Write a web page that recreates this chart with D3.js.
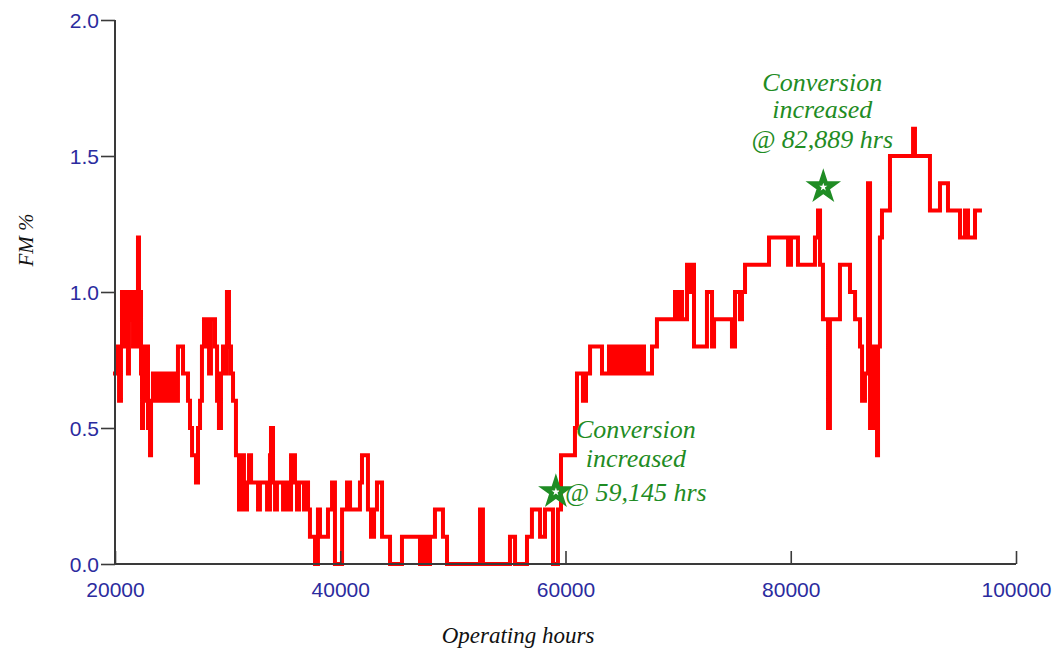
<!DOCTYPE html>
<html>
<head>
<meta charset="utf-8">
<script src="https://cdn.jsdelivr.net/npm/d3@7"></script>
<style>
  html, body { margin: 0; padding: 0; background: #ffffff; }
  svg { display: block; }
</style>
</head>
<body>
<svg id="chart" width="1056" height="654"></svg>
<script>
// FM % recorded against operating hours
const hours = [
  20000, 20090, 20270, 20360, 20440, 20530, 20620, 20800, 20890, 20980,
  21150, 21240, 21420, 21600, 21690, 21860, 21950, 22040, 22130, 22310,
  22400, 22490, 22660, 22840, 22930, 23110, 23200, 23370, 23550, 23730,
  23910, 24080, 24260, 24440, 24620, 24790, 24970, 25240, 25420, 25590,
  25860, 26040, 26300, 26480, 26660, 26840, 27010, 27190, 27370, 27550,
  27720, 27900, 28080, 28170, 28350, 28520, 28700, 28880, 29060, 29230,
  29410, 29590, 29770, 29940, 30120, 30300, 30480, 30650, 30740, 30920,
  31010, 31190, 31280, 31450, 31540, 31720, 31900, 32080, 32520, 32700,
  32870, 33230, 33500, 33760, 33850, 34030, 34210, 34380, 34650, 34920,
  35090, 35360, 35630, 35800, 35980, 36160, 36340, 36600, 36780, 36960,
  37140, 37310, 37580, 37760, 38020, 38200, 38650, 38910, 39270, 39530,
  39980, 40160, 40420, 40600, 40870, 41490, 41750, 41930, 42200, 42460,
  42730, 43000, 43260, 43530, 43710, 44240, 44420, 44860, 45130, 45480,
  46020, 46640, 47080, 47350, 47700, 47970, 48410, 48860, 49120, 49480,
  52230, 52410, 52670, 54810, 55070, 55520, 56230, 56580, 57020, 57470,
  57740, 58180, 58620, 58890, 59160, 59330, 59600, 60670, 60840, 61020,
  61290, 61550, 61820, 62180, 63060, 63240, 63690, 63860, 64130, 64400,
  64660, 64930, 65200, 65460, 65730, 66080, 66350, 66700, 66970, 67330,
  67680, 68120, 69550, 69720, 69990, 70170, 70350, 70790, 71050, 71230,
  71410, 72390, 72560, 72830, 73010, 73190, 74610, 74780, 75050, 75320,
  75490, 75670, 75940, 77890, 78070, 79490, 79760, 80020, 80380, 80640,
  81890, 82150, 82420, 82600, 82860, 83130, 83310, 83480, 84110, 84370,
  84990, 85260, 85530, 85710, 85970, 86150, 86330, 86590, 86770, 86860,
  87040, 87390, 87660, 87750, 87920, 88100, 88550, 88810, 90770, 90860,
  91030, 92190, 92360, 93070, 93250, 93700, 93960, 94850, 95030, 95470,
  95740, 96180, 96360, 96800
];
const fm = [
  0.7, 0.8, 0.8, 0.6, 0.6, 0.8, 1.0, 1.0, 0.8, 1.0,
  0.7, 0.9, 1.0, 0.8, 1.0, 1.0, 0.8, 1.2, 1.0, 0.7,
  0.5, 0.6, 0.8, 0.8, 0.5, 0.4, 0.6, 0.7, 0.6, 0.7,
  0.6, 0.7, 0.6, 0.7, 0.6, 0.7, 0.6, 0.7, 0.6, 0.8,
  0.8, 0.7, 0.7, 0.6, 0.5, 0.4, 0.4, 0.3, 0.5, 0.6,
  0.8, 0.9, 0.8, 0.9, 0.7, 0.9, 0.9, 0.8, 0.6, 0.5,
  0.7, 0.8, 0.7, 1.0, 0.8, 0.7, 0.6, 0.6, 0.4, 0.4,
  0.2, 0.3, 0.4, 0.3, 0.2, 0.3, 0.4, 0.3, 0.3, 0.2,
  0.3, 0.3, 0.2, 0.4, 0.5, 0.3, 0.2, 0.3, 0.3, 0.2,
  0.3, 0.2, 0.4, 0.4, 0.3, 0.2, 0.3, 0.3, 0.2, 0.3,
  0.2, 0.1, 0.1, 0.0, 0.2, 0.1, 0.1, 0.2, 0.3, 0.0,
  0.0, 0.2, 0.2, 0.3, 0.2, 0.2, 0.3, 0.4, 0.4, 0.2,
  0.1, 0.2, 0.3, 0.3, 0.1, 0.1, 0.0, 0.0, 0.0, 0.1,
  0.1, 0.1, 0.0, 0.1, 0.0, 0.1, 0.2, 0.2, 0.1, 0.0,
  0.0, 0.2, 0.0, 0.0, 0.1, 0.0, 0.0, 0.1, 0.2, 0.2,
  0.1, 0.2, 0.2, 0.0, 0.0, 0.2, 0.4, 0.4, 0.5, 0.7,
  0.7, 0.6, 0.7, 0.8, 0.8, 0.7, 0.7, 0.8, 0.7, 0.8,
  0.7, 0.8, 0.7, 0.8, 0.7, 0.8, 0.7, 0.8, 0.7, 0.7,
  0.8, 0.9, 0.9, 1.0, 0.9, 1.0, 0.9, 1.1, 1.0, 1.1,
  0.8, 0.8, 1.0, 1.0, 0.8, 0.9, 0.9, 0.8, 1.0, 1.0,
  0.9, 1.0, 1.1, 1.1, 1.2, 1.2, 1.1, 1.2, 1.2, 1.1,
  1.1, 1.2, 1.3, 1.1, 0.9, 0.9, 0.5, 0.9, 0.9, 1.1,
  1.1, 1.0, 1.0, 0.9, 0.9, 0.8, 0.6, 0.7, 0.7, 1.4,
  0.5, 0.8, 0.4, 0.8, 1.2, 1.3, 1.3, 1.5, 1.5, 1.6,
  1.5, 1.5, 1.3, 1.3, 1.4, 1.4, 1.3, 1.3, 1.2, 1.3,
  1.2, 1.2, 1.3, 1.3
];

// Axis ticks
const xTicks = [20000, 40000, 60000, 80000, 100000];
const yTicks = [0, 0.5, 1.0, 1.5, 2.0];

// Points where conversion was increased
const convHours = [59145, 82889];
const convFM = [0.265, 1.386];
const convLabels = [
  ["Conversion", "increased", "@ 59,145 hrs"],
  ["Conversion", "increased", "@ 82,889 hrs"]
];

const svg = d3.select("#chart");
const margin = { left: 115, right: 40, top: 20, bottom: 90 };
const W = 1056, H = 654;

const x = d3.scaleLinear().domain([20000, 100000]).range([margin.left, W - margin.right]);
const y = d3.scaleLinear().domain([0, 2.0]).range([H - margin.bottom, margin.top]);

const axisColor = "#3a3a3a";
const tickColor = "#2b2b9e";

// Data line: readings are held until the next sample
const series = hours.map((h, i) => ({ h, v: fm[i] }));
const line = d3.line().x(d => x(d.h)).y(d => y(d.v)).curve(d3.curveStepAfter);
svg.append("path")
  .datum(series)
  .attr("fill", "none")
  .attr("stroke", "#ff0000")
  .attr("stroke-width", 4)
  .attr("stroke-linejoin", "miter")
  .attr("stroke-linecap", "square")
  .attr("d", line);

// Y axis
const yAxis = d3.axisLeft(y).tickValues(yTicks).tickFormat(d3.format(".1f")).tickSize(14).tickPadding(2);
const gy = svg.append("g").attr("transform", `translate(${margin.left},0)`).call(yAxis);
gy.select(".domain").attr("stroke", axisColor).attr("stroke-width", 2)
  .attr("d", `M0,${y(2.0)}V${y(0)}`);
gy.selectAll(".tick line").attr("stroke", axisColor).attr("stroke-width", 1.6);
gy.selectAll(".tick text")
  .attr("fill", tickColor)
  .attr("font-family", "'Liberation Sans', Arial, sans-serif")
  .attr("font-size", 21)
  .attr("dy", "0.36em");

// X axis (ticks point up into the plot)
const xAxis = d3.axisBottom(x).tickValues(xTicks).tickFormat(d3.format("d")).tickSize(0).tickPadding(0);
const gx = svg.append("g").attr("transform", `translate(0,${y(0)})`).call(xAxis);
gx.select(".domain").attr("stroke", axisColor).attr("stroke-width", 2)
  .attr("d", `M${x(20000)},0H${x(100000)}`);
gx.selectAll(".tick line").attr("y2", -13).attr("stroke", axisColor).attr("stroke-width", 1.6);
gx.selectAll(".tick text")
  .attr("fill", tickColor)
  .attr("font-family", "'Liberation Sans', Arial, sans-serif")
  .attr("font-size", 21)
  .attr("y", 33)
  .attr("dy", 0);

// Axis titles
svg.append("text")
  .attr("x", 518)
  .attr("y", 643)
  .attr("text-anchor", "middle")
  .attr("font-family", "'Liberation Serif', 'Times New Roman', serif")
  .attr("font-style", "italic")
  .attr("font-size", 23)
  .attr("fill", "#111")
  .text("Operating hours");

svg.append("text")
  .attr("transform", "translate(33,240) rotate(-90)")
  .attr("text-anchor", "middle")
  .attr("font-family", "'Liberation Serif', 'Times New Roman', serif")
  .attr("font-style", "italic")
  .attr("font-size", 21)
  .attr("fill", "#111")
  .text("FM %");

// Conversion markers
const green = "#1f8c24";
const star = d3.symbol().type(d3.symbolStar).size(150);
svg.selectAll("path.conv")
  .data(convHours)
  .join("path")
  .attr("class", "conv")
  .attr("transform", (d, i) => `translate(${x(d)},${y(convFM[i])})`)
  .attr("d", star)
  .attr("fill", "none")
  .attr("stroke", green)
  .attr("stroke-width", 4.4)
  .attr("stroke-linejoin", "miter");

// Annotation text blocks: [centre-x offset, first baseline offset, line gaps]
const labelLayout = [
  { dx: 80, dy: -54, gaps: [29, 34] },
  { dx: -1, dy: -96, gaps: [27, 30] }
];
convLabels.forEach((lines, i) => {
  const cx = x(convHours[i]) + labelLayout[i].dx;
  let by = y(convFM[i]) + labelLayout[i].dy;
  const t = svg.append("text")
    .attr("text-anchor", "middle")
    .attr("font-family", "'Liberation Serif', 'Times New Roman', serif")
    .attr("font-style", "italic")
    .attr("font-size", 26)
    .attr("fill", green);
  lines.forEach((s, k) => {
    if (k > 0) by += labelLayout[i].gaps[k - 1];
    t.append("tspan").attr("x", cx).attr("y", by).text(s);
  });
});
</script>
</body>
</html>
